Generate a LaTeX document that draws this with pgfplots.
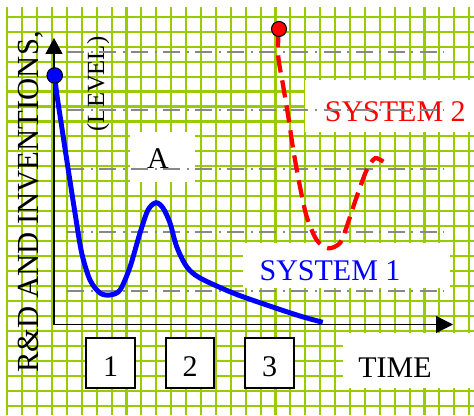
\documentclass[border=0pt]{standalone}
\usepackage{fontspec}
\setmainfont{Liberation Serif}
\usepackage{pgfplots}
\pgfplotsset{compat=1.18}
\usetikzlibrary{arrows.meta}
\definecolor{gridgreen}{RGB}{153,204,0}
\definecolor{dashgray}{RGB}{136,136,136}
\newcommand\bigtxt{\fontsize{22.5}{27}\selectfont}
\begin{document}
\begin{tikzpicture}
\begin{axis}[name=ax, scale only axis, width=350.25pt, height=306pt,
  xmin=7, xmax=474, ymin=0, ymax=408,
  xtick=\empty, ytick=\empty,
  axis line style={draw=none},
  clip=false]

% background grid
\pgfplotsinvokeforeach{0,...,31}{
  \draw[gridgreen, line width=1.6pt] (7.3+14.9*#1,0) -- (7.3+14.9*#1,408);
}
\pgfplotsinvokeforeach{0,...,26}{
  \draw[gridgreen, line width=1.6pt] (7,9.3+14.96*#1) -- (474,9.3+14.96*#1);
}

% white patches behind the labels
\fill[white] (130,233) rectangle (195,283);
\fill[white] (305,283) rectangle (474,335);
\fill[white] (243,127) rectangle (450,172);
\fill[white] (343,27) rectangle (474,82);
\draw[fill=white, line width=1pt] (86,27) rectangle (135,77);
\draw[fill=white, line width=1pt] (166,27) rectangle (214,77);
\draw[fill=white, line width=1pt] (245,27) rectangle (294,77);

% labels
\node[rotate=90, anchor=base, inner sep=0pt, font=\fontsize{23}{27}\selectfont] at (38.5,213) {R\&D AND INVENTIONS,};
\node[rotate=90, anchor=base, inner sep=0pt, font=\fontsize{18.5}{22}\selectfont] at (104,331) {(LEVEL)};
\node[anchor=base, inner sep=0pt, font=\bigtxt] at (158,247) {A};
\node[anchor=base, inner sep=0pt, font=\bigtxt, red] at (395.3,293.3) {SYSTEM 2};
\node[anchor=base, inner sep=0pt, font=\bigtxt, blue] at (330,135) {SYSTEM 1};
\node[anchor=base, inner sep=0pt, font=\bigtxt] at (395,38) {TIME};
\node[anchor=base, inner sep=0pt, font=\bigtxt] at (110.5,38.3) {1};
\node[anchor=base, inner sep=0pt, font=\bigtxt] at (190,38.3) {2};
\node[anchor=base, inner sep=0pt, font=\bigtxt] at (269.5,38.3) {3};

% level lines
\pgfplotsinvokeforeach{362.7,305,245.7,183.3,124}{
  \draw[dashgray, line width=1.5pt, dash pattern=on 12.75pt off 4.9pt on 1.5pt off 4.9pt] (67,#1) -- (443.7,#1);
}

% axes
\draw[line width=0.9pt, -{Triangle[length=12pt,width=12.75pt]}] (54,90.5) -- (54,377);
\draw[line width=0.9pt, -{Triangle[length=12.75pt,width=12.75pt]}] (54,90.5) -- (453,90.5);

% system 1
\addplot[blue, line width=3.7pt, smooth, tension=0.5] coordinates {
(54.7,339.5) (56.7,321.7) (61.7,288.3) (68.3,245) (75,202) (81.7,162)
(90,135) (100,122) (110,120) (120,125) (130,148) (140,182) (148,205)
(156,212.3) (163,207) (170,192) (176.7,168.3) (186.7,148.3) (200,137)
(233,122) (266.7,110) (300,99) (322.7,92.7)
};
% system 2
\addplot[red, line width=3.2pt, smooth, tension=0.5, dash pattern=on 13pt off 6pt] coordinates {
(278.5,385) (278.3,358.3) (283.3,328.3) (288.3,298.3) (293.3,265)
(300,228.3) (306.7,198.3) (316.7,175) (328.3,166.7) (340,172)
(346.7,188.3) (356.7,218.3) (366.7,245) (375,256.7) (383.3,253.3)
};
\addplot[only marks, mark=*, mark size=5.8pt, mark options={fill=blue, draw=black, line width=0.8pt}] coordinates {(54.7,339.5)};
\addplot[only marks, mark=*, mark size=5.6pt, mark options={fill=red, draw=black, line width=0.8pt}] coordinates {(279,386)};
\end{axis}
\pgfresetboundingbox
\useasboundingbox ([xshift=-5.25pt]ax.south west) rectangle ([yshift=5.25pt]ax.north east);
\end{tikzpicture}
\end{document}
